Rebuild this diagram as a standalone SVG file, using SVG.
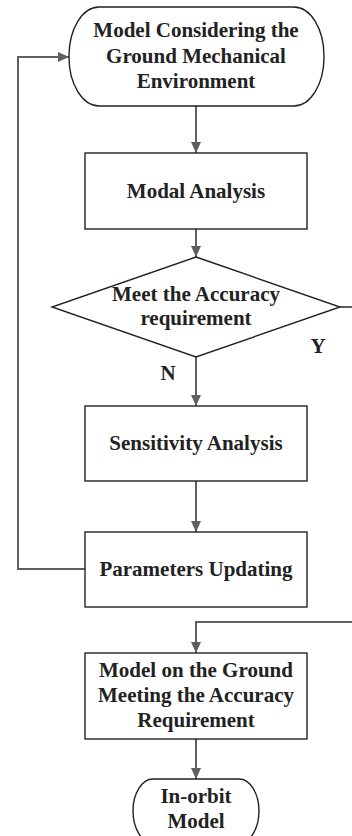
<svg xmlns="http://www.w3.org/2000/svg" width="352" height="836" viewBox="0 0 352 836">
<style>
.shape{fill:#fff;stroke:#222;stroke-width:1.4}
.conn{fill:none;stroke:#5f5f5f;stroke-width:2}
text{font-family:"Liberation Serif","Times New Roman",serif;font-weight:bold;font-size:21px;fill:#222;text-anchor:middle}
</style>
<defs>
<marker id="arr" viewBox="0 0 11 10" refX="11" refY="5" markerWidth="11" markerHeight="10" markerUnits="userSpaceOnUse" orient="auto">
<path d="M0,0 L11,5 L0,10 z" fill="#5f5f5f"/>
</marker>
</defs>
<rect width="352" height="836" fill="#fff"/>
<g id="connectors">
<path class="conn" d="M196,106 V153" marker-end="url(#arr)"/>
<path class="conn" d="M196,229 V257" marker-end="url(#arr)"/>
<path class="conn" d="M196,357 V406" marker-end="url(#arr)"/>
<path class="conn" d="M196,481 V532" marker-end="url(#arr)"/>
<path class="conn" d="M85,569 H18 V57 H69" marker-end="url(#arr)"/>
<path class="conn" d="M340,307 H360 V622 H196 V653" marker-end="url(#arr)"/>
<path class="conn" d="M196,739 V779" marker-end="url(#arr)"/>
</g>
<g id="start">
<rect class="shape" x="69" y="7" width="255" height="99" rx="30" ry="49"/>
<text x="196" y="37">Model Considering the</text>
<text x="196" y="63">Ground Mechanical</text>
<text x="196" y="88">Environment</text>
</g>
<g id="modal">
<rect class="shape" x="85" y="153" width="222" height="76"/>
<text x="196" y="198">Modal Analysis</text>
</g>
<g id="decision">
<polygon class="shape" points="196,257 340,307 196,357 52,307"/>
<text x="196" y="301">Meet the Accuracy</text>
<text x="196" y="325">requirement</text>
</g>
<g id="labels">
<text x="318" y="353">Y</text>
<text x="168" y="380">N</text>
</g>
<g id="sensitivity">
<rect class="shape" x="85" y="406" width="222" height="75"/>
<text x="196" y="450">Sensitivity Analysis</text>
</g>
<g id="parameters">
<rect class="shape" x="85" y="532" width="222" height="75"/>
<text x="196" y="576">Parameters Updating</text>
</g>
<g id="ground-model">
<rect class="shape" x="85" y="653" width="222" height="86"/>
<text x="196" y="677">Model on the Ground</text>
<text x="196" y="702">Meeting the Accuracy</text>
<text x="196" y="727">Requirement</text>
</g>
<g id="inorbit">
<rect class="shape" x="133" y="779" width="126" height="64" rx="20" ry="32"/>
<text x="196" y="803">In-orbit</text>
<text x="196" y="828">Model</text>
</g>
</svg>
